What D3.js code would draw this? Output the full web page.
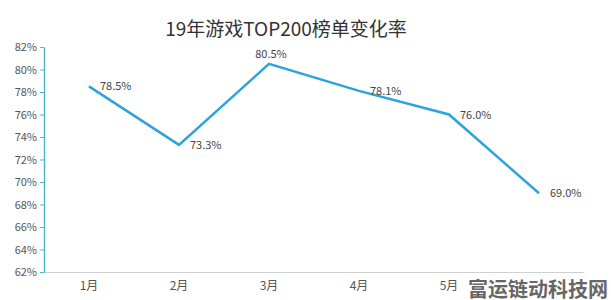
<!DOCTYPE html>
<html>
<head>
<meta charset="utf-8">
<script src="https://cdn.jsdelivr.net/npm/d3@7"></script>
<style>
  body { margin: 0; background: #fff; }
  svg { font-family: "Noto Sans CJK SC", "Noto Sans", sans-serif; }
</style>
</head>
<body>
<svg id="chart" width="611" height="300"></svg>
<script>
const months = ['1月', '2月', '3月', '4月', '5月', '6月']
const rates = [78.5, 73.3, 80.5, 78.1, 76.0, 69.0]
const yTicks = [62, 64, 66, 68, 70, 72, 74, 76, 78, 80, 82]

const svg = d3.select('#chart')
const width = 611
const height = 300
const margin = {top: 47, right: 27, bottom: 28, left: 44}

const x = d3.scaleBand()
  .domain(months)
  .range([margin.left, width - margin.right])

const y = d3.scaleLinear()
  .domain([62, 82])
  .range([height - margin.bottom, margin.top])

svg.append('rect').attr('width', width).attr('height', height).attr('fill', '#fff')

// title
svg.append('text')
  .attr('x', 286)
  .attr('y', 36)
  .attr('text-anchor', 'middle')
  .attr('font-size', 19)
  .attr('fill', '#333')
  .text('19年游戏TOP200榜单变化率')

// x axis (last month label is hidden under the watermark in the original)
const xAxis = svg.append('g')
  .attr('transform', `translate(0,${height - margin.bottom})`)
  .call(d3.axisBottom(x).tickSize(0).tickPadding(9)
    .tickFormat((d, i) => i < months.length - 1 ? d : ''))
xAxis.select('.domain').attr('stroke', '#d0d0d0')
xAxis.selectAll('text')
  .attr('font-size', 12)
  .attr('fill', '#555')
  .attr('font-family', '"Noto Sans CJK SC", sans-serif')

// y axis
const yAxis = svg.append('g')
  .attr('transform', `translate(${margin.left},0)`)
  .call(d3.axisLeft(y).tickValues(yTicks).tickSize(4).tickPadding(3).tickSizeOuter(0)
    .tickFormat(d => d + '%'))
yAxis.select('.domain').attr('stroke', '#4db8c9').attr('stroke-width', 1.5)
yAxis.selectAll('.tick line').attr('stroke', '#4db8c9')
yAxis.selectAll('text')
  .attr('font-size', 11)
  .attr('fill', '#555')
  .attr('font-family', '"Noto Sans CJK SC", sans-serif')

const pts = months.map((m, i) => ({m, v: rates[i]}))

const line = d3.line()
  .x(d => x(d.m) + x.bandwidth() / 2)
  .y(d => y(d.v))

svg.append('path')
  .datum(pts)
  .attr('d', line)
  .attr('fill', 'none')
  .attr('stroke', '#2ba4dd')
  .attr('stroke-width', 2.5)
  .attr('stroke-linejoin', 'miter')

// value labels, the peak one sits above its point
svg.selectAll('.val')
  .data(pts)
  .enter()
  .append('text')
  .attr('class', 'val')
  .attr('x', (d, i) => x(d.m) + x.bandwidth() / 2 + (i === 2 ? 2 : 11))
  .attr('y', (d, i) => y(d.v) + (i === 2 ? -6 : 4))
  .attr('text-anchor', (d, i) => i === 2 ? 'middle' : 'start')
  .attr('font-size', 11)
  .attr('fill', '#444')
  .text(d => d.v.toFixed(1) + '%')

// watermark at bottom right
svg.append('text')
  .attr('x', 608)
  .attr('y', 297)
  .attr('text-anchor', 'end')
  .attr('font-size', 20)
  .attr('font-weight', 'bold')
  .attr('fill', '#666')
  .text('富运链动科技网')
</script>
</body>
</html>
